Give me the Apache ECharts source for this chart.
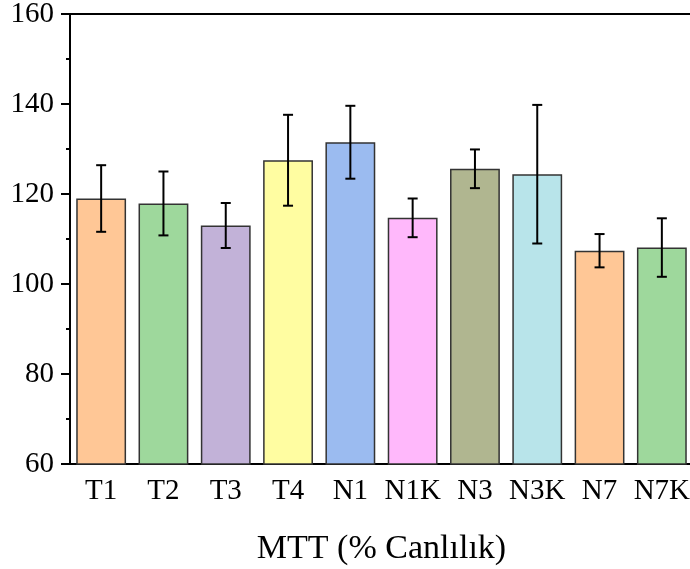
<!DOCTYPE html>
<html>
<head>
<meta charset="utf-8">
<script src="https://cdn.jsdelivr.net/npm/echarts@6/dist/echarts.min.js"></script>
<style>html,body{margin:0;padding:0;background:#fff;}#c{width:690px;height:569px;}</style>
</head>
<body>
<div id="c"></div>
<script>
const categories = ['T1','T2','T3','T4','N1','N1K','N3','N3K','N7','N7K'];
const means = [119.0, 117.9, 113.0, 127.5, 131.5, 114.7, 125.6, 124.4, 107.4, 108.1];
const sds = [7.4, 7.1, 5.0, 10.1, 8.1, 4.3, 4.3, 15.4, 3.7, 6.5];
const colors = ['#FFC796','#9ED89C','#C2B2D8','#FFFDA1','#9BBBF0','#FFB8FB','#B0B690','#B8E4EA','#FFC796','#9ED89C'];
const yTicks = [60, 80, 100, 120, 140, 160];

const font = 'Liberation Serif';
const chart = echarts.init(document.getElementById('c'));
chart.setOption({
  animation: false,
  grid: {left: 70, top: 14, width: 623, height: 450, containLabel: false, outerBoundsMode: 'none'},
  xAxis: [{
    type: 'category', data: categories, position: 'bottom',
    axisLine: {lineStyle: {color: '#000', width: 2}},
    axisTick: {alignWithLabel: true, length: 7, lineStyle: {color: '#000', width: 2}},
    axisLabel: {color: '#000', fontFamily: font, fontSize: 29, margin: 13, interval: 0},
    name: 'MTT (% Canlılık)', nameLocation: 'middle', nameGap: 68,
    nameTextStyle: {color: '#000', fontFamily: font, fontSize: 34}
  }, {
    type: 'category', data: categories, position: 'top',
    axisLine: {show: true, lineStyle: {color: '#000', width: 2}},
    axisTick: {show: false}, axisLabel: {show: false}
  }],
  yAxis: {
    type: 'value', min: yTicks[0], max: yTicks[yTicks.length-1], interval: 20,
    axisLine: {show: true, lineStyle: {color: '#000', width: 2}},
    axisTick: {show: true, length: 9, lineStyle: {color: '#000', width: 2}},
    minorTick: {show: true, splitNumber: 2, length: 4, lineStyle: {color: '#000', width: 2}},
    splitLine: {show: false},
    axisLabel: {color: '#000', fontFamily: font, fontSize: 29, margin: 16}
  },
  series: [{
    type: 'bar', data: means.map((v, i) => ({value: v, itemStyle: {color: colors[i]}})),
    barCategoryGap: '20%',
    itemStyle: {borderColor: '#333', borderWidth: 1.5}
  }, {
    type: 'custom',
    data: means.map((v, i) => [i, v - sds[i], v + sds[i]]),
    renderItem: function (params, api) {
      const lo = api.coord([api.value(0), api.value(1)]);
      const hi = api.coord([api.value(0), api.value(2)]);
      const hw = 5;
      const st = {stroke: '#000', lineWidth: 2};
      return {type: 'group', children: [
        {type: 'line', shape: {x1: lo[0], y1: lo[1], x2: hi[0], y2: hi[1]}, style: st},
        {type: 'line', shape: {x1: hi[0]-hw, y1: hi[1], x2: hi[0]+hw, y2: hi[1]}, style: st},
        {type: 'line', shape: {x1: lo[0]-hw, y1: lo[1], x2: lo[0]+hw, y2: lo[1]}, style: st}
      ]};
    },
    z: 10
  }]
});
</script>
</body>
</html>
